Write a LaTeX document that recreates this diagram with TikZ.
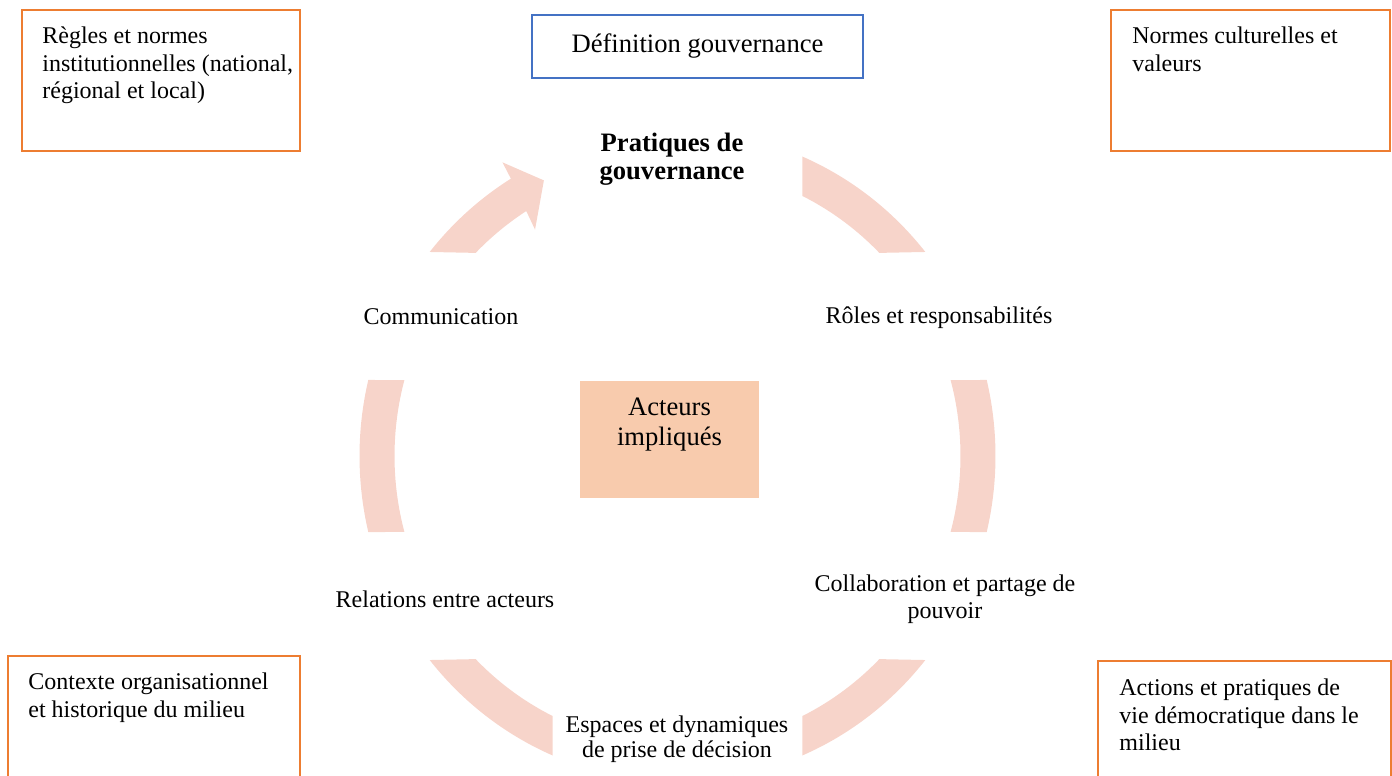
\documentclass[tikz,border=0pt]{standalone}
\usepackage{fontspec}
\setmainfont{Liberation Serif}
\definecolor{ringc}{RGB}{247,212,202}
\definecolor{boxor}{RGB}{237,125,49}
\definecolor{defblue}{RGB}{68,114,196}
\definecolor{peach}{RGB}{248,203,173}
\begin{document}
\begin{tikzpicture}[x=0.5pt,y=-0.5pt,
  cornerbox/.style={draw=boxor,line width=1pt,anchor=north west,inner sep=0pt},
  cornertext/.style={anchor=north west,inner sep=0pt,align=left,font=\fontsize{12pt}{13.75pt}\selectfont},
  steplabel/.style={inner sep=0pt,align=center,font=\fontsize{12pt}{13.6pt}\selectfont},
  ringseg/.style={fill=ringc,draw=none}]
\useasboundingbox (0,0) rectangle (1392,776);
\clip (0,0) rectangle (1392,776);

% cycle ring
\begin{scope}[shift={(677.5,456)},yscale=-1.024]
  \fill[ringseg] (66.9:318) arc[start angle=66.9,end angle=38.8,radius=318] -- (44.5:283) arc[start angle=44.5,end angle=63.8,radius=283] -- cycle;
  \fill[ringseg] (13.5:318) arc[start angle=13.5,end angle=-13.5,radius=318] -- (-15.2:283) arc[start angle=-15.2,end angle=15.2,radius=283] -- cycle;
  \fill[ringseg] (-38.8:318) arc[start angle=-38.8,end angle=-66.9,radius=318] -- (-63.8:283) arc[start angle=-63.8,end angle=-44.5,radius=283] -- cycle;
  \fill[ringseg] (246.9:318) arc[start angle=246.9,end angle=218.8,radius=318] -- (224.5:283) arc[start angle=224.5,end angle=243.8,radius=283] -- cycle;
  \fill[ringseg] (166.5:318) arc[start angle=166.5,end angle=193.5,radius=318] -- (195.2:283) arc[start angle=195.2,end angle=164.8,radius=283] -- cycle;
  \fill[ringseg] (141.2:318) arc[start angle=141.2,end angle=121.6,radius=318] -- (121.4:336) -- (116.4:300.5) -- (122.8:263) -- (122.3:283) arc[start angle=122.3,end angle=135.5,radius=283] -- cycle;
\end{scope}

% corner boxes
\node[cornerbox,minimum width=139pt,minimum height=70.5pt] (tl) at (21,9) {};
\node[cornertext] (tlt) at (42,26.5) {Règles et normes\\institutionnelles (national,\\régional et local)};
\node[cornerbox,minimum width=139.5pt,minimum height=70.5pt] (tr) at (1110,9) {};
\node[cornertext] (trt) at (1132,26.5) {Normes culturelles et\\valeurs};
\node[cornerbox,minimum width=146pt,minimum height=75pt] (bl) at (7,655) {};
\node[cornertext] (blt) at (28,672.5) {Contexte organisationnel\\et historique du milieu};
\node[cornerbox,minimum width=146.5pt,minimum height=75pt] (br) at (1097,660) {};
\node[cornertext] (brt) at (1119,678.5) {Actions et pratiques de\\vie démocratique dans le\\milieu};

% definition box
\node[draw=defblue,line width=1pt,anchor=north west,inner sep=0pt,minimum width=165.5pt,minimum height=31.5pt,font=\fontsize{13.3pt}{15pt}\selectfont] (def) at (531,14) {Définition gouvernance};

% centre
\node[fill=peach,anchor=north west,inner sep=0pt,minimum width=89.5pt,minimum height=58.5pt] (act) at (580,381) {};
\node[inner sep=0pt,align=center,font=\fontsize{13.3pt}{15pt}\selectfont] (actt) at (669.5,425) {Acteurs\\impliqués};

% cycle labels
\node[inner sep=0pt,align=center,font=\fontsize{13.3pt}{14pt}\selectfont\bfseries] (prat) at (672,159) {Pratiques de\\gouvernance};
\node[steplabel] (roles) at (939,318) {Rôles et responsabilités};
\node[steplabel] (collab) at (945,599) {Collaboration et partage de\\pouvoir};
\node[steplabel,font=\fontsize{12pt}{12.5pt}\selectfont] (esp) at (677,739) {Espaces et dynamiques\\de prise de décision};
\node[steplabel] (rel) at (445,599) {Relations entre acteurs};
\node[steplabel] (comm) at (441,317) {Communication};
\end{tikzpicture}
\end{document}
